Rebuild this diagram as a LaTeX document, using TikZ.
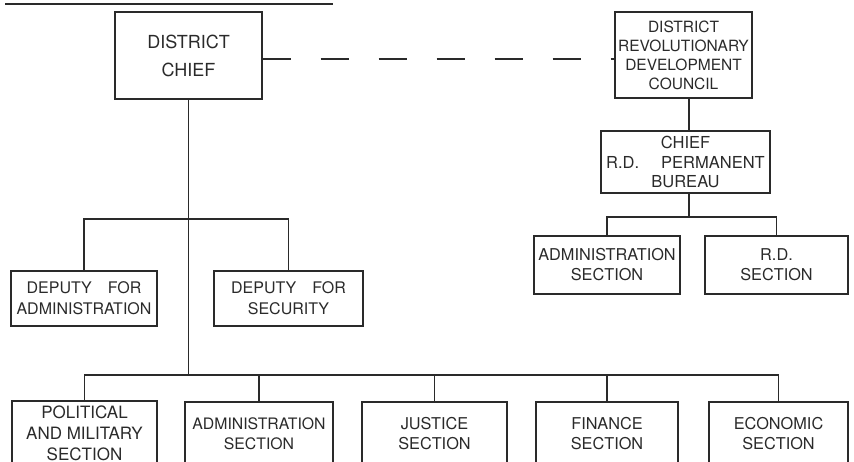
\documentclass[tikz,border=0pt]{standalone}
\usepackage{fontspec}
\setmainfont{TeX Gyre Heros}
\definecolor{ink}{HTML}{2A2A2A}
\tikzset{
  box/.style={draw=ink, line width=1.1pt, rectangle, inner sep=0pt, align=center,
    text=ink, font=\fontsize{16.3}{20}\selectfont},
  link/.style={draw=ink, line width=1.1pt},
}
\begin{document}
\begin{tikzpicture}[x=1pt,y=-1pt]
\useasboundingbox (0,0) rectangle (854,461);
% title underline (title text cut off at top edge)
\draw[ink, line width=1.6pt] (5,4) -- (333,4);

% left hierarchy
\node[box, minimum width=147pt, minimum height=87pt, font=\fontsize{18}{28}\selectfont] (chief) at (188.5,55.5) {DISTRICT\\CHIEF};
\node[box, minimum width=146pt, minimum height=55pt, font=\fontsize{16}{21}\selectfont] (depA) at (84,298.5) {DEPUTY\hspace{16pt}FOR\\ADMINISTRATION};
\node[box, minimum width=149pt, minimum height=55pt, font=\fontsize{16}{21}\selectfont] (depS) at (288.5,298.5) {DEPUTY\hspace{16pt}FOR\\SECURITY};

\node[box, minimum width=145pt, minimum height=64pt, font=\fontsize{17}{21}\selectfont] (pol) at (84.5,433) {POLITICAL\\AND MILITARY\\SECTION};
\node[box, minimum width=148pt, minimum height=64pt, font=\fontsize{15.8}{20}\selectfont] (adm) at (259,434) {ADMINISTRATION\\SECTION};
\node[box, minimum width=145pt, minimum height=64pt] (jus) at (434.5,434) {JUSTICE\\SECTION};
\node[box, minimum width=142pt, minimum height=64pt] (fin) at (607,434) {FINANCE\\SECTION};
\node[box, minimum width=139pt, minimum height=64pt] (eco) at (778.5,434) {ECONOMIC\\SECTION};

% right hierarchy
\node[box, minimum width=137pt, minimum height=86pt, font=\fontsize{15.5}{19}\selectfont] (drdc) at (683.5,55) {DISTRICT\\REVOLUTIONARY\\DEVELOPMENT\\COUNCIL};
\node[box, minimum width=169pt, minimum height=62pt, font=\fontsize{16.5}{19.5}\selectfont] (rdpb) at (685.5,162) {CHIEF\\R.D.\hspace{22pt}PERMANENT\\BUREAU};
\node[box, minimum width=146pt, minimum height=58pt] (adm2) at (607,265) {ADMINISTRATION\\SECTION};
\node[box, minimum width=143pt, minimum height=58pt] (rds) at (776.5,265) {R.D.\\SECTION};

% bar coordinates
\coordinate (dbar) at (190,219);
\coordinate (bbar) at (190,375);
\coordinate (rx) at (689,217);

% connectors left
\draw[link] (chief.south) -- (chief.south |- bbar);
\draw[link] (depA.north) -- (depA.north |- dbar) -- (depS.north |- dbar) -- (depS.north);
\draw[link] (pol.north) -- (pol.north |- bbar) -- (eco.north |- bbar) -- (eco.north);
\draw[link] (adm.north) -- (adm.north |- bbar);
\draw[link] (jus.north) -- (jus.north |- bbar);
\draw[link] (fin.north) -- (fin.north |- bbar);

% connectors right
\draw[link] (drdc.south -| rx) -- (rdpb.north -| rx);
\draw[link] (rdpb.south -| rx) -- (rx);
\draw[link] (adm2.north) -- (adm2.north |- rx) -- (rds.north |- rx) -- (rds.north);

% dashed link
\draw[link, dash pattern=on 28pt off 30pt] ([yshift=-3.5pt]chief.east) -- ([yshift=-3.5pt]chief.east -| drdc.west);
\end{tikzpicture}
\end{document}
